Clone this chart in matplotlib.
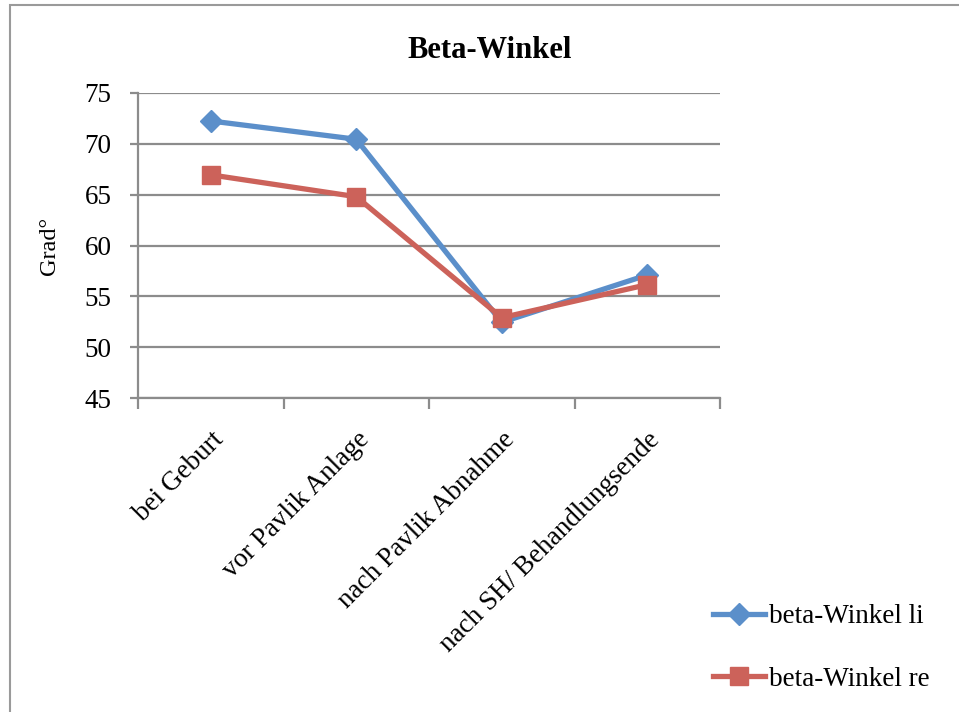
"""
Beta-Winkel line chart (left vs right) over the treatment stages.
"""

import matplotlib.pyplot as plt
from matplotlib.patches import Rectangle

categories = [
    "bei Geburt",
    "vor Pavlik Anlage",
    "nach Pavlik Abnahme",
    "nach SH/ Behandlungsende",
]
beta_li = [72.25, 70.45, 52.45, 57.1]
beta_re = [66.95, 64.8, 52.9, 56.15]
y_ticks = [45, 50, 55, 60, 65, 70, 75]

blue = "#5B8FCA"
red = "#CC625A"
grid_gray = "#8C8C8C"

plt.rcParams["font.family"] = ["Liberation Serif", "DejaVu Serif"]

fig = plt.figure(figsize=(9.59, 7.12), dpi=100)
ax = fig.add_axes([138 / 959, 1 - 398 / 712, (720 - 138) / 959, (398 - 93) / 712])

# outer chart border
fig.patches.append(
    Rectangle((10 / 959, -0.1), 1.2, 1 - 5 / 712 + 0.1, transform=fig.transFigure,
              fill=False, edgecolor="#9A9A9A", linewidth=1.5)
)

x = list(range(len(categories)))
ax.plot(x, beta_li, color=blue, linewidth=3.8, marker="D", markersize=11,
        label="beta-Winkel li", zorder=3)
ax.plot(x, beta_re, color=red, linewidth=3.8, marker="s", markersize=12.5,
        label="beta-Winkel re", zorder=4)

ax.set_xlim(-0.5, len(categories) - 0.5)
ax.set_ylim(45, 75)
ax.set_yticks(y_ticks)
ax.yaxis.grid(True, color=grid_gray, linewidth=1.6)
ax.set_axisbelow(True)

# category boundaries as major ticks, labels on minor ticks
ax.set_xticks([i - 0.5 for i in range(len(categories) + 1)])
ax.set_xticklabels([])
ax.set_xticks(x, minor=True)
ax.set_xticklabels(categories, minor=True, rotation=45, ha="right",
                   rotation_mode="anchor", fontsize=19.5)
ax.tick_params(axis="x", which="major", length=8, width=1.6, color=grid_gray)
ax.tick_params(axis="x", which="minor", length=0, pad=21)
ax.tick_params(axis="y", length=6, width=1.6, color=grid_gray, labelsize=19.5, pad=13)

for side in ["top", "right"]:
    ax.spines[side].set_visible(False)
for side in ["left", "bottom"]:
    ax.spines[side].set_color(grid_gray)
    ax.spines[side].set_linewidth(1.6)

ax.set_ylabel("Grad°", fontsize=17.5, labelpad=18)
fig.text(490 / 959, 1 - 51 / 712, "Beta-Winkel", ha="center", va="center",
         fontsize=22, fontweight="bold")

fig.legend(loc="center left", bbox_to_anchor=(689 / 959, 1 - 648 / 712),
           frameon=False, fontsize=19.5, labelspacing=1.4, handlelength=1.9,
           handletextpad=0.15)

fig.savefig("out.png", dpi=100)
